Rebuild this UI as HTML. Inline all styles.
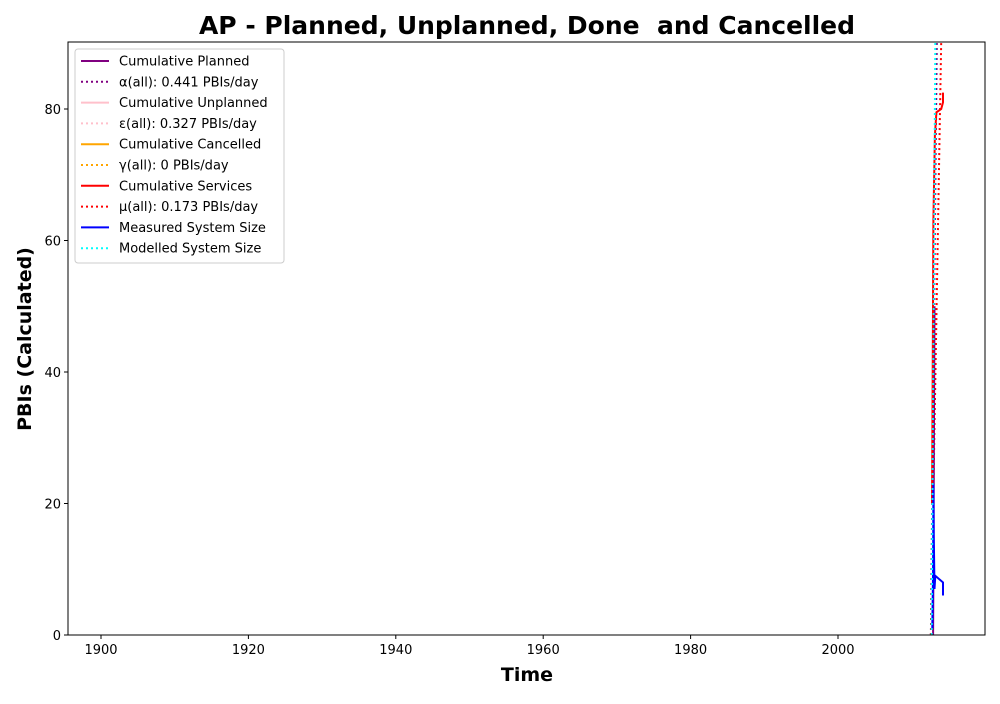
<!DOCTYPE html>
<html><head><meta charset="utf-8"><style>
body{margin:0;background:#fff;font-family:"DejaVu Sans",sans-serif}
</style></head><body>
<svg id="c" width="1000" height="700" xmlns="http://www.w3.org/2000/svg" font-family="DejaVu Sans, sans-serif"></svg>
<script>
const xTicks=[1900,1920,1940,1960,1980,2000];
const yTicks=[0,20,40,60,80];
const plannedX=[2012.9,2012.95,2013.0,2013.05,2013.1];
const plannedY=[0,10,25,40,50];
const servicesX=[2012.75,2012.85,2012.95,2013.05,2013.15,2013.35,2014.0,2014.25,2014.25];
const servicesY=[20,40,63,70,76,79.5,80,81,82.5];
const measuredX=[2012.8,2012.9,2012.95,2013.0,2013.1,2013.2,2014.25,2014.25];
const measuredY=[1,10,23,15,7,9,8,6];
const alphaX=[2012.6,2013.4];const alphaY=[0,90.2];
const epsX=[2012.6,2013.3];const epsY=[0,90.2];
const muX=[2012.6,2014.0];const muY=[0,90.2];
const modelX=[2012.7,2013.2];const modelY=[0,90.2];
const L=68,R=985,T=42,B=635;
const X=v=>838+(v-2000)*7.37, Y=v=>635-v*6.575;
const s=document.getElementById('c');const NS='http://www.w3.org/2000/svg';
function el(t,a,p){const e=document.createElementNS(NS,t);for(const k in a)e.setAttribute(k,a[k]);(p||s).appendChild(e);return e;}
function txt(x,y,str,a){const e=el('text',Object.assign({x:x,y:y},a));e.textContent=str;return e;}
const clip=el('clipPath',{id:'cp'});el('rect',{x:L,y:T,width:R-L,height:B-T},clip);
const g=el('g',{'clip-path':'url(#cp)'});

function line(xs,ys,col,dash,name){const d=xs.map((v,i)=>(i?'L':'M')+X(v).toFixed(1)+','+Y(ys[i]).toFixed(1)).join('');const p=el('path',{d:d,fill:'none',stroke:col,'stroke-width':2},g);if(dash)p.setAttribute('stroke-dasharray',dash);

}
line(epsX,epsY,'pink','2,3','epsilon-line');
line(alphaX,alphaY,'purple','2,3','alpha-line');
line(muX,muY,'red','2,3','mu-line');
line(plannedX,plannedY,'purple',null,'cumulative-planned');
line(servicesX,servicesY,'red',null,'cumulative-services');
line(measuredX,measuredY,'blue',null,'measured-system-size');
line(modelX,modelY,'cyan','2,3','modelled-system-size');
const fr=el('rect',{x:L,y:T,width:R-L,height:B-T,fill:'none',stroke:'#000','stroke-width':1});

xTicks.forEach(v=>{el('line',{x1:X(v),x2:X(v),y1:B,y2:B+4,stroke:'#000'});const t=txt(X(v),B+19,String(v),{'font-size':13,'text-anchor':'middle'});});
yTicks.forEach(v=>{el('line',{x1:L-4,x2:L,y1:Y(v),y2:Y(v),stroke:'#000'});const t=txt(L-7,Y(v)+5,String(v),{'font-size':13,'text-anchor':'end'});});
const ti=txt(527,34,'AP - Planned, Unplanned, Done  and Cancelled',{'font-size':25,'font-weight':'bold','text-anchor':'middle'});ti.style.whiteSpace='pre';
const xt=txt(527,681,'Time',{'font-size':19,'font-weight':'bold','text-anchor':'middle'});
const yt=txt(0,0,'PBIs (Calculated)',{'font-size':19,'font-weight':'bold','text-anchor':'middle',transform:'translate(31,339) rotate(-90)'});
const leg=el('g',{});
el('rect',{x:75,y:49,width:209,height:214,fill:'#fff',stroke:'#ccc',rx:3},leg);
const items=[['Cumulative Planned','purple',null],['α(all): 0.441 PBIs/day','purple','2,3'],['Cumulative Unplanned','pink',null],['ε(all): 0.327 PBIs/day','pink','2,3'],['Cumulative Cancelled','orange',null],['γ(all): 0 PBIs/day','orange','2,3'],['Cumulative Services','red',null],['μ(all): 0.173 PBIs/day','red','2,3'],['Measured System Size','blue',null],['Modelled System Size','cyan','2,3']];
items.forEach((it,i)=>{const y=61+i*20.8;const l=el('line',{x1:81,x2:109,y1:y,y2:y,stroke:it[1],'stroke-width':2},leg);if(it[2])l.setAttribute('stroke-dasharray',it[2]);const t=txt(119,y+4.5,it[0],{'font-size':13},leg);});
</script>
</body></html>
